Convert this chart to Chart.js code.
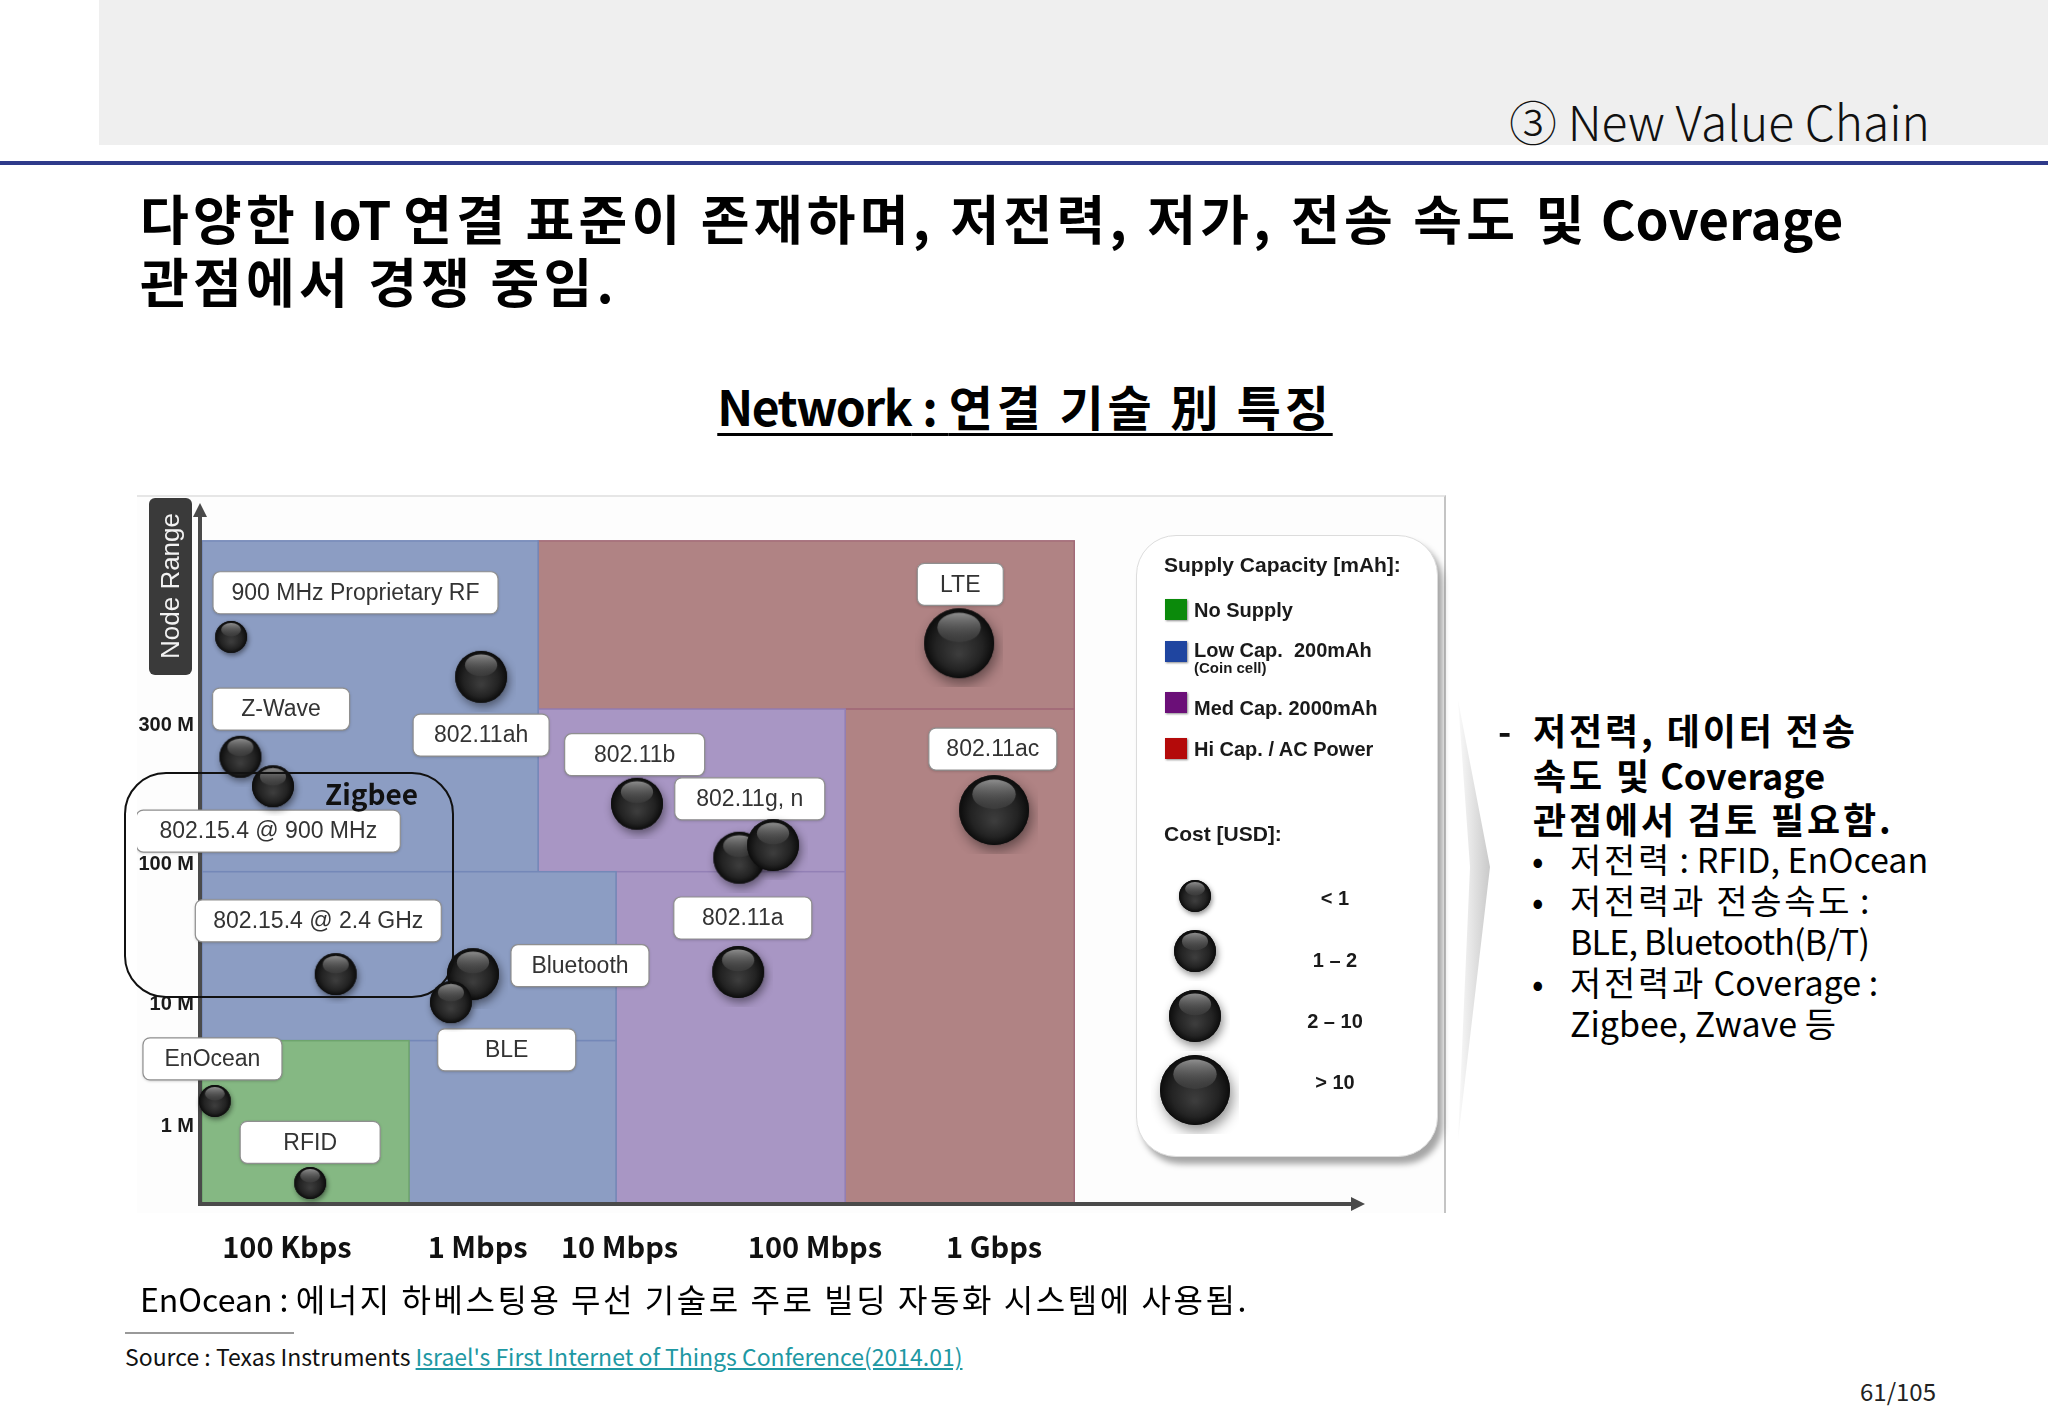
<!DOCTYPE html>
<html><head><meta charset="utf-8">
<script src="https://cdn.jsdelivr.net/npm/chart.js@4/dist/chart.umd.min.js"></script>
<style>
html,body{margin:0;padding:0;background:#fff;}
#page{position:relative;width:2048px;height:1418px;overflow:hidden;background:#fff;font-family:"Noto Sans CJK KR","Noto Sans",sans-serif;color:#111;}
.abs{position:absolute;white-space:nowrap;}
.lg{font-family:"Liberation Sans",Arial,sans-serif;font-weight:bold;color:#1a1a1a;}
</style></head>
<body><div id="page">
<div class="abs" style="left:99px;top:0;width:1949px;height:145px;background:#efefef;"></div>
<div class="abs" style="left:0;top:161px;width:2048px;height:4px;background:#2e3a8a;"></div>
<div class="abs" style="right:118px;top:92px;font-size:48px;line-height:56px;font-weight:300;color:#111;">③ New Value Chain</div>
<div class="abs hs" style="left:140px;top:186px;font-size:53px;line-height:63px;font-weight:700;color:#000;">다양한 IoT 연결 표준이 존재하며, 저전력, 저가, 전송 속도 및 Coverage<br>관점에서 경쟁 중임.</div>
<div class="abs" style="left:0;width:2050px;text-align:center;top:375px;font-size:48px;line-height:60px;font-weight:700;color:#000;"><span class="hs" style="text-decoration:underline;text-decoration-thickness:3px;text-underline-offset:7px;"><span style="letter-spacing:-1.5px;">Network</span> : 연결 기술 別 특징</span></div>

<div class="abs" style="left:137px;top:495px;width:1307px;height:716px;background:#fdfdfd;border-top:2px solid #e6e6e6;border-right:2px solid #c4c4c4;"></div>
<canvas id="c" class="abs" width="1309" height="780" style="left:137px;top:496px;"></canvas>

<div class="abs" style="left:149px;top:498px;width:43px;height:177px;background:#3a3a3a;border-radius:6px;"></div>
<div class="abs" style="left:170px;top:586px;width:0;height:0;">
  <div style="position:absolute;left:-100px;top:-16px;width:200px;text-align:center;transform:rotate(-90deg);font-family:'Liberation Sans',Arial,sans-serif;font-size:26px;line-height:32px;color:#f2f2f2;">Node Range</div>
</div>
<div class="abs" style="left:124px;top:772px;width:326px;height:222px;border:2.5px solid #111;border-radius:42px;"></div>
<div class="abs" style="left:325px;top:775px;font-size:28px;line-height:36px;font-weight:700;color:#111;">Zigbee</div>

<div id="legend" class="abs" style="left:1136px;top:535px;width:300px;height:620px;border-radius:40px;background:#fff;border:1px solid #dcdcdc;box-shadow:5px 7px 6px rgba(0,0,0,0.35);"></div>

<svg class="abs" style="left:1450px;top:690px;" width="50" height="460">
  <defs><linearGradient id="gch" x1="0" x2="1" y1="0" y2="0"><stop offset="0" stop-color="#fafafa"/><stop offset="1" stop-color="#c9c9c9"/></linearGradient></defs>
  <polygon points="8,10 40,177 8,450 20,177" fill="url(#gch)"/>
</svg>

<div class="abs" style="left:1498px;top:707px;font-size:36px;line-height:44.5px;font-weight:700;">-</div>
<div class="abs hs" style="left:1533px;top:707px;font-size:36px;line-height:44.5px;font-weight:700;color:#000;">저전력, 데이터 전송<br>속도 및 Coverage<br>관점에서 검토 필요함.</div>
<div class="abs" style="left:1532px;top:838px;font-size:34px;line-height:41px;font-weight:400;color:#000;">•<br>•<br><br>•</div>
<div class="abs hs" style="left:1570px;top:838px;font-size:34px;line-height:41px;font-weight:400;color:#000;">저전력 : RFID, EnOcean<br>저전력과 전송속도 :<br><span style="letter-spacing:-0.8px;">BLE, Bluetooth(B/T)</span><br>저전력과 Coverage :<br>Zigbee, Zwave 등</div>

<div class="abs hs" style="left:140px;top:1278px;font-size:32px;line-height:40px;font-weight:400;color:#000;">EnOcean : 에너지 하베스팅용 무선 기술로 주로 빌딩 자동화 시스템에 사용됨.</div>
<div class="abs" style="left:125px;top:1332px;width:169px;height:2px;background:#999;"></div>
<div class="abs" style="left:125px;top:1342px;font-size:23px;line-height:29px;color:#111;">Source : Texas Instruments <span style="color:#1e98a3;text-decoration:underline;">Israel's First Internet of Things Conference(2014.01)</span></div>
<div class="abs" style="left:1860px;top:1377px;font-size:24px;line-height:28px;color:#222;">61/105</div>
</div>

<script>
// widen Hangul runs slightly (source font has wider Hangul)
document.querySelectorAll('.hs').forEach(el => {
  el.innerHTML = el.innerHTML.replace(/([\u3131-\uD7A3\u4E00-\u9FFF](?:[\u3131-\uD7A3\u4E00-\u9FFF ,]*[\u3131-\uD7A3\u4E00-\u9FFF])?)/g,
    '<span style="letter-spacing:0.08em">$1</span>');
});

// ---------- data ----------
const TECH_NAMES = ['900 MHz Proprietary RF','802.11ah','Z-Wave','802.15.4 @ 900 MHz','802.15.4 @ 2.4 GHz','Bluetooth','BLE','802.11b','802.11g','802.11n','802.11a','LTE','802.11ac','EnOcean','RFID'];
const TECH_RATE  = [2.5, 24.0, 3.3, 6.1, 11.5, 23.3, 21.4, 37.4, 46.2, 49.1, 46.1, 65.1, 68.1, 1.1, 9.3];   // data-rate axis position
const TECH_RANGE = [80.9, 75.2, 63.8, 59.6, 32.8, 32.8, 28.8, 57.1, 49.4, 51.2, 33.1, 80.0, 56.2, 14.7, 3.0]; // node-range axis position
const TECH_COST  = [0, 2, 1, 1, 1, 2, 1, 2, 2, 2, 2, 3, 3, 0, 0]; // index into COST_LABELS

const X_TICK_VALUES = [7.3, 23.7, 35.9, 52.7, 68.1];
const X_TICK_LABELS = ['100 Kbps','1 Mbps','10 Mbps','100 Mbps','1 Gbps'];
const Y_TICK_VALUES = [11.1, 28.5, 48.4, 68.3];
const Y_TICK_LABELS = ['1 M','10 M','100 M','300 M'];

const COST_LABELS = ['< 1','1 – 2','2 – 10','> 10'];
const SUPPLY_LABELS = ['No Supply','Low Cap.  200mAh','Med Cap. 2000mAh','Hi Cap. / AC Power'];

// supply zones: class index, rate from/to, range from/to
const ZONE_CLASS = [3, 3, 2, 2, 1, 1, 1, 0];
const ZONE_X0 = [28.9, 55.3, 28.9, 35.6, 0,    0,    17.8, 0];
const ZONE_X1 = [75.0, 75.0, 55.3, 55.3, 28.9, 35.6, 35.6, 17.8];
const ZONE_Y0 = [70.6, 0,    47.4, 0,    47.4, 23.3, 0,    0];
const ZONE_Y1 = [94.6, 70.6, 70.6, 47.4, 94.6, 47.4, 23.3, 23.3];

// ---------- layout / style ----------
const COST_RADIUS = [16, 21, 26, 35];
const ZONE_FILL   = ['#85b883', '#8c9dc3', '#a896c4', '#b08384'];
const ZONE_STROKE = ['#6ea46d', '#7488b8', '#9380b6', '#a26a78'];
const SWATCH = ['#0b8a0b', '#1f45a0', '#6b0f78', '#b40a0a'];
const LABEL_LAYOUT = {
 '900 MHz Proprietary RF': [13.2, 87.2, 285],
 'Z-Wave': [6.8, 70.6, 137],
 '802.11ah': [24.0, 66.9, 136],
 '802.11b': [37.2, 64.1, 140],
 '802.11g, n': [47.1, 57.8, 150],
 'LTE': [65.2, 88.4, 86],
 '802.11ac': [68.0, 64.9, 128],
 '802.15.4 @ 900 MHz': [5.7, 53.2, 264],
 '802.15.4 @ 2.4 GHz': [10.0, 40.4, 246],
 'Bluetooth': [32.5, 34.0, 138],
 '802.11a': [46.5, 40.8, 138],
 'EnOcean': [0.9, 20.7, 139],
 'BLE': [26.2, 22.0, 138],
 'RFID': [9.3, 8.8, 140]
};

function makeSphere(r){
  const pad = 9, s = 2*(r+pad);
  const c = document.createElement('canvas'); c.width = s; c.height = s;
  const g = c.getContext('2d'); const cx = s/2, cy = s/2;
  g.save();
  g.shadowColor = 'rgba(0,0,0,0.45)'; g.shadowBlur = r*0.35; g.shadowOffsetX = r*0.08; g.shadowOffsetY = r*0.16;
  g.beginPath(); g.arc(cx, cy, r, 0, Math.PI*2); g.fillStyle = '#1a1a1a'; g.fill();
  g.restore();
  const rg = g.createRadialGradient(cx, cy+r*0.3, r*0.05, cx, cy, r);
  rg.addColorStop(0, '#3c3c3c'); rg.addColorStop(0.65, '#232323'); rg.addColorStop(1, '#0c0c0c');
  g.beginPath(); g.arc(cx, cy, r, 0, Math.PI*2); g.fillStyle = rg; g.fill();
  g.save(); g.beginPath(); g.arc(cx, cy, r, 0, Math.PI*2); g.clip();
  const lg = g.createLinearGradient(0, cy-r, 0, cy);
  lg.addColorStop(0, 'rgba(175,175,175,0.95)'); lg.addColorStop(1, 'rgba(80,80,80,0.25)');
  g.beginPath(); g.ellipse(cx, cy-r*0.45, r*0.62, r*0.42, 0, 0, Math.PI*2); g.fillStyle = lg; g.fill();
  g.restore();
  return c;
}
const SPHERES = COST_RADIUS.map(makeSphere);

// ---------- legend (HTML) ----------
(function(){
  const L = document.getElementById('legend');
  const add = (html, style) => { const d = document.createElement('div'); d.className = 'abs lg'; d.style.cssText += style; d.innerHTML = html; L.appendChild(d); return d; };
  add('Supply Capacity [mAh]:', 'left:27px;top:16px;font-size:21px;line-height:26px;');
  const swTop = [63, 105, 156, 202], txC = [74, 114, 172, 213];
  SUPPLY_LABELS.forEach((t, i) => {
    add('', `left:28px;top:${swTop[i]}px;width:22px;height:21px;background:${SWATCH[i]};box-shadow:1px 1px 2px rgba(0,0,0,0.45);`);
    add(t.replace(/  /g, '&nbsp; '), `left:57px;top:${txC[i]-12}px;font-size:20px;line-height:24px;`);
  });
  add('(Coin cell)', 'left:57px;top:124px;font-size:15px;line-height:16px;');
  add('Cost [USD]:', 'left:27px;top:285px;font-size:21px;line-height:26px;');
  const bC = [360, 415, 480, 554], tC = [362, 424, 485, 546];
  COST_LABELS.forEach((t, i) => {
    const sp = makeSphere(COST_RADIUS[i]);
    sp.className = 'abs'; sp.style.left = (58 - sp.width/2) + 'px'; sp.style.top = (bC[i] - sp.height/2) + 'px';
    L.appendChild(sp);
    add(t, `left:148px;width:100px;text-align:center;top:${tC[i]-12}px;font-size:20px;line-height:24px;`);
  });
})();

// ---------- chart ----------
const zonesPlugin = {
  id: 'zones',
  beforeDatasetsDraw(chart){
    const {ctx, scales:{x, y}, chartArea:a} = chart;
    ctx.save();
    for (let i = 0; i < ZONE_CLASS.length; i++){
      const x0 = x.getPixelForValue(ZONE_X0[i]), x1 = x.getPixelForValue(ZONE_X1[i]);
      const y0 = y.getPixelForValue(ZONE_Y0[i]), y1 = y.getPixelForValue(ZONE_Y1[i]);
      ctx.fillStyle = ZONE_FILL[ZONE_CLASS[i]];
      ctx.fillRect(x0, y1, x1-x0, y0-y1);
      ctx.strokeStyle = ZONE_STROKE[ZONE_CLASS[i]]; ctx.lineWidth = 1.5;
      ctx.strokeRect(x0, y1, x1-x0, y0-y1);
    }
    // axes with arrows
    const ox = x.getPixelForValue(0) - 2, oy = y.getPixelForValue(0);
    ctx.strokeStyle = '#4a4a4a'; ctx.fillStyle = '#4a4a4a'; ctx.lineWidth = 4;
    ctx.beginPath(); ctx.moveTo(ox, oy+2); ctx.lineTo(ox, a.top+12); ctx.stroke();
    ctx.beginPath(); ctx.moveTo(ox-7, a.top+14); ctx.lineTo(ox, a.top); ctx.lineTo(ox+7, a.top+14); ctx.closePath(); ctx.fill();
    ctx.beginPath(); ctx.moveTo(ox-2, oy); ctx.lineTo(a.right-12, oy); ctx.stroke();
    ctx.beginPath(); ctx.moveTo(a.right-14, oy-7); ctx.lineTo(a.right, oy); ctx.lineTo(a.right-14, oy+7); ctx.closePath(); ctx.fill();
    // label boxes
    ctx.font = '23px "Liberation Sans", Arial, sans-serif';
    ctx.textAlign = 'center'; ctx.textBaseline = 'middle';
    Object.keys(LABEL_LAYOUT).forEach(name => {
      const [lx, ly, w] = LABEL_LAYOUT[name];
      const cx = x.getPixelForValue(lx), cy = y.getPixelForValue(ly), h = 42;
      ctx.save();
      ctx.shadowColor = 'rgba(0,0,0,0.25)'; ctx.shadowBlur = 3; ctx.shadowOffsetY = 1;
      ctx.beginPath(); ctx.roundRect(cx-w/2, cy-h/2, w, h, 7);
      ctx.fillStyle = '#ffffff'; ctx.fill();
      ctx.restore();
      ctx.strokeStyle = '#8f8f8f'; ctx.lineWidth = 1.2;
      ctx.beginPath(); ctx.roundRect(cx-w/2, cy-h/2, w, h, 7); ctx.stroke();
      ctx.fillStyle = '#333'; ctx.fillText(name, cx, cy+1);
    });
    ctx.restore();
  }
};

const zeroPad = s => { s.paddingTop = 0; s.paddingBottom = 0; s.paddingLeft = 0; s.paddingRight = 0; };

new Chart(document.getElementById('c'), {
  type: 'bubble',
  data: {
    datasets: [{
      label: 'Technologies',
      data: TECH_NAMES.map((n, i) => ({x: TECH_RATE[i], y: TECH_RANGE[i], r: COST_RADIUS[TECH_COST[i]]})),
      pointStyle: ctx => SPHERES[TECH_COST[ctx.dataIndex]],
      backgroundColor: '#222', borderWidth: 0,
      clip: false
    }]
  },
  options: {
    responsive: false, animation: false, devicePixelRatio: 1,
    layout: {autoPadding: false, padding: {top: 7, right: 81, left: 0, bottom: 0}},
    plugins: {legend: {display: false}, tooltip: {enabled: false}},
    scales: {
      x: {
        type: 'linear', min: 0, max: 100, position: 'bottom',
        grid: {display: false, drawTicks: false}, border: {display: false},
        afterBuildTicks: s => { s.ticks = X_TICK_VALUES.map(v => ({value: v})); },
        afterFit: s => { s.height = 72; zeroPad(s); },
        ticks: {autoSkip: false, maxRotation: 0, minRotation: 0, padding: 26, color: '#111',
          font: {family: '"Noto Sans CJK KR"', size: 29, weight: 'bold'},
          callback: (v, i) => X_TICK_LABELS[i]}
      },
      y: {
        type: 'linear', min: 0, max: 100, position: 'left',
        grid: {display: false, drawTicks: false}, border: {display: false},
        afterBuildTicks: s => { s.ticks = Y_TICK_VALUES.map(v => ({value: v})); },
        afterFit: s => { s.width = 65; zeroPad(s); },
        ticks: {autoSkip: false, padding: 8, color: '#1a1a1a',
          font: {family: '"Liberation Sans", Arial', size: 20, weight: 'bold'},
          callback: (v, i) => Y_TICK_LABELS[i]}
      }
    }
  },
  plugins: [zonesPlugin]
});
</script>
</body></html>
